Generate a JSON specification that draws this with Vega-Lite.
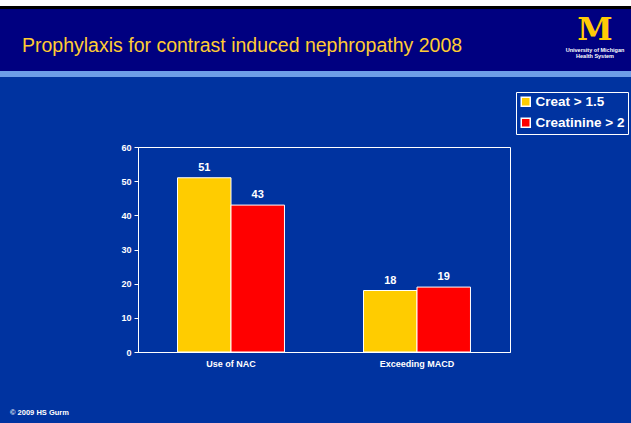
{
  "$schema": "https://vega.github.io/schema/vega-lite/v6.json",
  "background": "#0033a0",
  "padding": {"left": 0, "top": 0, "right": 0, "bottom": 8},
  "spacing": 0,
  "config": {
    "font": "Liberation Sans",
    "view": {"stroke": null},
    "concat": {"spacing": 0}
  },
  "title": {
    "text": "© 2009 HS Gurm",
    "orient": "bottom",
    "anchor": "start",
    "frame": "group",
    "offset": 40,
    "dx": 10,
    "fontSize": 7.5,
    "fontWeight": "bold",
    "color": "white",
    "font": "Liberation Sans"
  },
  "vconcat": [
    {
      "width": 631,
      "height": 6,
      "view": {"fill": "white"},
      "data": {"values": [{"k": ""}]},
      "mark": {"type": "rect", "opacity": 0},
      "encoding": {}
    },
    {
      "width": 631,
      "height": 3,
      "view": {"fill": "black"},
      "data": {"values": [{"k": ""}]},
      "mark": {"type": "rect", "opacity": 0},
      "encoding": {}
    },
    {
      "width": 631,
      "height": 62,
      "view": {"fill": "#000080"},
      "title": {
        "text": "Prophylaxis for contrast induced nephropathy 2008",
        "orient": "top",
        "anchor": "start",
        "frame": "group",
        "baseline": "alphabetic",
        "offset": -62,
        "dx": 22,
        "fontSize": 19.5,
        "fontWeight": "normal",
        "color": "#FFCC33",
        "font": "Liberation Sans"
      },
      "data": {"values": [{"logo": "M", "top": "University of Michigan", "bottom": "Health System"}]},
      "layer": [
        {
          "mark": {"type": "text", "x": 595, "y": 31, "font": "DejaVu Serif", "fontWeight": "bold", "fontSize": 32, "color": "#FFCB05", "baseline": "alphabetic", "align": "center"},
          "encoding": {"text": {"field": "logo"}}
        },
        {
          "mark": {"type": "text", "x": 595, "y": 41, "fontWeight": "bold", "fontSize": 5.5, "color": "white", "align": "center"},
          "encoding": {"text": {"field": "top"}}
        },
        {
          "mark": {"type": "text", "x": 595, "y": 47, "fontWeight": "bold", "fontSize": 5.5, "color": "white", "align": "center"},
          "encoding": {"text": {"field": "bottom"}}
        }
      ]
    },
    {
      "width": 631,
      "height": 6,
      "view": {"fill": "#6d9de8"},
      "data": {"values": [{"k": ""}]},
      "mark": {"type": "rect", "opacity": 0},
      "encoding": {}
    },
    {
      "width": 631,
      "height": 65,
      "data": {"values": [{"k": ""}]},
      "mark": {"type": "rect", "opacity": 0},
      "encoding": {}
    },
    {
      "hconcat": [
        {
          "width": 117,
          "height": 205,
          "data": {"values": [{"k": ""}]},
          "mark": {"type": "rect", "opacity": 0},
          "encoding": {}
        },
        {
          "width": 372,
          "height": 205,
          "view": {"stroke": "white"},
          "data": {
            "values": [
              {"category": "Use of NAC", "series": "Creat > 1.5", "value": 51},
              {"category": "Use of NAC", "series": "Creatinine > 2", "value": 43},
              {"category": "Exceeding MACD", "series": "Creat > 1.5", "value": 18},
              {"category": "Exceeding MACD", "series": "Creatinine > 2", "value": 19}
            ]
          },
          "encoding": {
            "x": {
              "field": "category",
              "type": "nominal",
              "sort": ["Use of NAC", "Exceeding MACD"],
              "scale": {"paddingInner": 0.425, "paddingOuter": 0.2125},
              "axis": {
                "title": null,
                "labelAngle": 0,
                "ticks": false,
                "domainColor": "white",
                "labelColor": "white",
                "labelFontWeight": "bold",
                "labelFontSize": 9,
                "labelPadding": 7
              }
            },
            "xOffset": {
              "field": "series",
              "type": "nominal",
              "scale": {"paddingInner": 0, "paddingOuter": 0}
            },
            "y": {
              "field": "value",
              "type": "quantitative",
              "scale": {"domain": [0, 60]},
              "axis": {
                "title": null,
                "values": [0, 10, 20, 30, 40, 50, 60],
                "grid": false,
                "domainColor": "white",
                "tickColor": "white",
                "tickSize": 4,
                "labelColor": "white",
                "labelFontWeight": "bold",
                "labelFontSize": 9,
                "labelPadding": 3,
                "minExtent": 20,
                "maxExtent": 20
              }
            }
          },
          "layer": [
            {
              "mark": {"type": "bar", "stroke": "white"},
              "encoding": {
                "color": {
                  "field": "series",
                  "type": "nominal",
                  "scale": {"range": ["#FFCC00", "#FF0000"]},
                  "legend": {
                    "title": null,
                    "orient": "none",
                    "legendX": 516,
                    "legendY": 92,
                    "direction": "vertical",
                    "strokeColor": "white",
                    "padding": 3,
                    "rowPadding": 5,
                    "symbolType": "square",
                    "symbolSize": 81,
                    "symbolStrokeColor": "white",
                    "labelColor": "white",
                    "labelFontSize": 13.5,
                    "labelFontWeight": "bold",
                    "labelOffset": 3,
                    "labelLimit": 200
                  }
                }
              }
            },
            {
              "mark": {"type": "text", "dy": -10, "color": "white", "fontWeight": "bold"},
              "encoding": {
                "text": {"field": "value", "type": "quantitative"},
                "fontSize": {"condition": {"test": "datum.series === 'Creatinine > 2'", "value": 12}, "value": 10}
              }
            }
          ]
        }
      ]
    }
  ]
}
